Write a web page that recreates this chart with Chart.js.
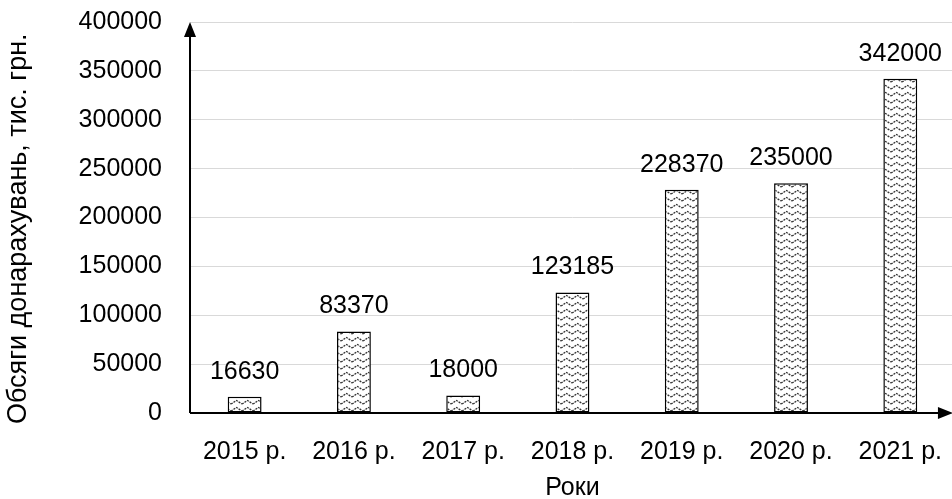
<!DOCTYPE html>
<html>
<head>
<meta charset="utf-8">
<script src="https://cdn.jsdelivr.net/npm/chart.js"></script>
<style>
  html, body { margin: 0; padding: 0; background: #fff; overflow: hidden; }
  #wrap { width: 952px; height: 499px; overflow: hidden; }
  #chart { display: block; margin-top: -21px; }
</style>
</head>
<body>
<div id="wrap"><canvas id="chart" width="966" height="528"></canvas></div>
<script>
const years = ['2015 р.', '2016 р.', '2017 р.', '2018 р.', '2019 р.', '2020 р.', '2021 р.'];
const amounts = [16630, 83370, 18000, 123185, 228370, 235000, 342000];
const yTitle = 'Обсяги донарахувань, тис. грн.';
const xTitle = 'Роки';

const FONT = '"Liberation Sans", Arial, sans-serif';

// візерунок "хвиля"
function makePattern() {
    const c = document.createElement('canvas');
    c.width = 11;
    c.height = 7;
    const g = c.getContext('2d');
    g.fillStyle = '#fff';
    g.fillRect(0, 0, 11, 7);
    g.strokeStyle = '#333';
    g.lineWidth = 1.3;
    g.setLineDash([2, 1]);
    g.beginPath();
    g.moveTo(0, 5);
    g.lineTo(5.5, 1.5);
    g.lineTo(11, 5);
    g.stroke();
    return g.createPattern(c, 'repeat');
}

// осі зі стрілками
const arrowAxes = {
    id: 'arrowAxes',
    afterDatasetsDraw(chart) {
        const ctx = chart.ctx;
        const a = chart.chartArea;
        ctx.save();
        ctx.strokeStyle = '#000';
        ctx.fillStyle = '#000';
        ctx.lineWidth = 2;
        ctx.beginPath();
        ctx.moveTo(a.left, a.bottom);
        ctx.lineTo(a.left, a.top + 8);
        ctx.moveTo(a.left, a.bottom);
        ctx.lineTo(a.right - 8, a.bottom);
        ctx.stroke();
        ctx.beginPath();
        ctx.moveTo(a.left, a.top);
        ctx.lineTo(a.left - 6, a.top + 15);
        ctx.lineTo(a.left + 6, a.top + 15);
        ctx.closePath();
        ctx.fill();
        ctx.beginPath();
        ctx.moveTo(a.right - 2, a.bottom);
        ctx.lineTo(a.right - 17, a.bottom - 6);
        ctx.lineTo(a.right - 17, a.bottom + 6);
        ctx.closePath();
        ctx.fill();
        ctx.restore();
    }
};

// підписи значень над стовпцями
const valueLabels = {
    id: 'valueLabels',
    afterDatasetsDraw(chart) {
        const ctx = chart.ctx;
        const meta = chart.getDatasetMeta(0);
        ctx.save();
        ctx.font = '25px ' + FONT;
        ctx.fillStyle = '#000';
        ctx.textAlign = 'center';
        ctx.textBaseline = 'middle';
        meta.data.forEach((bar, i) => {
            ctx.fillText(String(amounts[i]), bar.x, bar.y - 25);
        });
        ctx.restore();
    }
};

const ctx = document.getElementById('chart').getContext('2d');
new Chart(ctx, {
    type: 'bar',
    data: {
        labels: years,
        datasets: [{
            data: amounts,
            backgroundColor: makePattern(),
            borderColor: '#000',
            borderWidth: 1.5,
            borderSkipped: false,
            categoryPercentage: 1,
            barPercentage: 0.31
        }]
    },
    options: {
        responsive: false,
        animation: false,
        layout: { padding: { top: 4, right: 0, left: 0, bottom: 0 } },
        plugins: {
            legend: { display: false },
            tooltip: { enabled: false }
        },
        scales: {
            y: {
                min: 0,
                max: 400000,
                ticks: {
                    stepSize: 50000,
                    padding: 28,
                    color: '#000',
                    callback: v => String(v),
                    font: { family: FONT, size: 25 }
                },
                border: { display: false },
                grid: { color: '#d9d9d9', lineWidth: 1, drawTicks: false },
                title: {
                    display: true,
                    // пробіли в кінці зсувають підпис трохи нижче
                    text: yTitle + '   ',
                    color: '#000',
                    font: { family: FONT, size: 27 },
                    padding: { top: 2 }
                },
                afterFit(scale) { scale.width = 190; }
            },
            x: {
                ticks: {
                    padding: 24,
                    color: '#000',
                    maxRotation: 0,
                    autoSkip: false,
                    font: { family: FONT, size: 25 }
                },
                border: { display: false },
                grid: { display: false, drawTicks: false },
                title: {
                    display: true,
                    text: xTitle,
                    color: '#000',
                    font: { family: FONT, size: 25 },
                    padding: { top: 5 }
                },
                afterFit(scale) { scale.height = 94; }
            }
        }
    },
    plugins: [arrowAxes, valueLabels]
});
</script>
</body>
</html>
